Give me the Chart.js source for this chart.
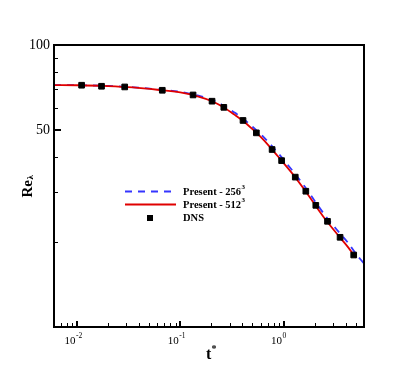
<!DOCTYPE html>
<html>
<head>
<meta charset="utf-8">
<script src="https://cdn.jsdelivr.net/npm/chart.js@4.4.0/dist/chart.umd.min.js"></script>
<style>
  html, body { margin: 0; padding: 0; background: #fff; }
</style>
</head>
<body>
<canvas id="js--chart" width="415" height="369"></canvas>
<script>
// Re_lambda decay, present runs vs DNS
const tPresent256 = [0.006, 0.01, 0.02, 0.035, 0.06, 0.1, 0.15, 0.2, 0.26, 0.33, 0.4, 0.5, 0.6, 0.75, 0.95, 1.2, 1.6, 2.0, 2.6, 3.5, 4.2, 5.0, 6.0];
const rePresent256 = [72.1, 72.0, 71.6, 70.8, 69.6, 68.2, 66.1, 64.0, 61.1, 57.8, 55.0, 51.3, 48.3, 44.3, 40.1, 36.1, 31.5, 28.0, 24.5, 21.5, 19.9, 18.2, 16.8];

const tPresent512 = [0.006, 0.01, 0.02, 0.035, 0.06, 0.1, 0.15, 0.2, 0.26, 0.33, 0.4, 0.5, 0.6, 0.75, 0.95, 1.2, 1.6, 2.0, 2.6, 3.5, 4.2, 5.0];
const rePresent512 = [72.1, 72.0, 71.5, 70.7, 69.4, 67.9, 65.6, 63.3, 60.3, 56.8, 54.0, 50.3, 47.2, 43.2, 39.0, 35.2, 30.6, 27.2, 23.8, 20.8, 19.2, 17.6];

const tDNS = [0.0111, 0.0173, 0.029, 0.067, 0.133, 0.203, 0.264, 0.405, 0.545, 0.774, 0.957, 1.297, 1.641, 2.05, 2.66, 3.52, 4.77];
const reDNS = [72.0, 71.4, 71.0, 69.1, 66.5, 63.2, 60.1, 54.0, 48.8, 42.6, 38.9, 34.0, 30.3, 27.0, 23.7, 20.8, 18.0];

const xTickValues = [0.006, 0.007, 0.008, 0.009, 0.01, 0.02, 0.03, 0.04, 0.05, 0.06, 0.07, 0.08, 0.09,
  0.1, 0.2, 0.3, 0.4, 0.5, 0.6, 0.7, 0.8, 0.9, 1, 2, 3, 4, 5, 6];
const xMajorTicks = [0.01, 0.1, 1];
const xMajorExponents = ["-2", "-1", "0"];
const yTickValues = [10, 20, 30, 40, 50, 60, 70, 80, 90, 100];
const yLabelled = [50, 100];

const legendLabels = ["Present - 256", "Present - 512", "DNS"];
const legendSups = ["3", "3", ""];

const SERIF = '"Liberation Serif", "Times New Roman", serif';

const toPoints = (xs, ys) => xs.map((v, i) => ({ x: v, y: ys[i] }));

const decorations = {
  id: 'decorations',
  afterDraw(chart) {
    const { ctx, chartArea: a, scales: { x, y } } = chart;
    ctx.save();

    // frame
    ctx.strokeStyle = '#000';
    ctx.lineWidth = 2;
    ctx.strokeRect(a.left, a.top, a.right - a.left, a.bottom - a.top);

    // inward ticks
    ctx.lineWidth = 1;
    ctx.beginPath();
    xTickValues.forEach(v => {
      const px = Math.round(x.getPixelForValue(v)) + 0.5;
      const len = xMajorTicks.includes(v) ? 6 : 4;
      ctx.moveTo(px, a.bottom);
      ctx.lineTo(px, a.bottom - len);
    });
    yTickValues.forEach(v => {
      const py = Math.round(y.getPixelForValue(v)) + 0.5;
      const len = yLabelled.includes(v) ? 7 : 4;
      ctx.moveTo(a.left, py);
      ctx.lineTo(a.left + len, py);
    });
    ctx.stroke();
    ctx.lineWidth = 2;
    ctx.beginPath();
    xMajorTicks.forEach(v => {
      const px = Math.round(x.getPixelForValue(v));
      ctx.moveTo(px, a.bottom);
      ctx.lineTo(px, a.bottom - 6);
    });
    ctx.moveTo(a.left, Math.round(y.getPixelForValue(50)));
    ctx.lineTo(a.left + 7, Math.round(y.getPixelForValue(50)));
    ctx.stroke();

    // x tick labels 10^n
    ctx.fillStyle = '#000';
    ctx.textBaseline = 'alphabetic';
    xMajorTicks.forEach((v, i) => {
      const px = x.getPixelForValue(v);
      ctx.font = '11px ' + SERIF;
      ctx.textAlign = 'right';
      ctx.fillText('10', px - 1.5, a.bottom + 17);
      ctx.font = '7.5px ' + SERIF;
      ctx.textAlign = 'left';
      ctx.fillText(xMajorExponents[i], px - 1, a.bottom + 11);
    });

    // axis titles
    ctx.textAlign = 'left';
    ctx.font = 'bold 16px ' + SERIF;
    ctx.fillText('t', 206, 359);
    ctx.font = 'bold 10px ' + SERIF;
    ctx.fillText('*', 211.5, 352);

    ctx.save();
    ctx.translate(32, 197.5);
    ctx.rotate(-Math.PI / 2);
    ctx.font = 'bold 15px ' + SERIF;
    ctx.fillText('Re', 0, 0);
    const w = ctx.measureText('Re').width;
    ctx.font = 'bold 9px ' + SERIF;
    ctx.fillText('λ', w + 0.5, 1);
    ctx.restore();

    // legend
    const rows = [191.5, 204.5, 218];
    ctx.lineWidth = 1.8;
    ctx.strokeStyle = '#3535ff';
    ctx.setLineDash([7, 6]);
    ctx.beginPath();
    ctx.moveTo(125, rows[0]);
    ctx.lineTo(176, rows[0]);
    ctx.stroke();
    ctx.setLineDash([]);
    ctx.strokeStyle = '#e00000';
    ctx.beginPath();
    ctx.moveTo(125, rows[1]);
    ctx.lineTo(176, rows[1]);
    ctx.stroke();
    ctx.fillStyle = '#000';
    ctx.fillRect(147, rows[2] - 3, 6, 6);

    ctx.textBaseline = 'middle';
    legendLabels.forEach((txt, i) => {
      ctx.font = 'bold 10.5px ' + SERIF;
      ctx.fillText(txt, 183, rows[i] + 0.5);
      if (legendSups[i]) {
        const tw = ctx.measureText(txt).width;
        ctx.font = 'bold 7px ' + SERIF;
        ctx.fillText(legendSups[i], 183 + tw + 0.5, rows[i] - 4);
      }
    });

    ctx.restore();
  }
};

const config = {
  type: 'scatter',
  data: {
    datasets: [
      {
        label: 'DNS',
        data: toPoints(tDNS, reDNS),
        pointStyle: 'rect',
        pointRadius: 4,
        backgroundColor: '#000',
        borderColor: '#000',
        borderWidth: 1,
        showLine: false,
        order: 0
      },
      {
        label: 'Present - 512³',
        data: toPoints(tPresent512, rePresent512),
        showLine: true,
        borderColor: '#e00000',
        borderWidth: 1.8,
        pointRadius: 0,
        cubicInterpolationMode: 'monotone',
        order: 1
      },
      {
        label: 'Present - 256³',
        data: toPoints(tPresent256, rePresent256),
        showLine: true,
        borderColor: '#3535ff',
        borderWidth: 1.8,
        borderDash: [7, 6],
        pointRadius: 0,
        cubicInterpolationMode: 'monotone',
        order: 2
      }
    ]
  },
  options: {
    responsive: false,
    animation: false,
    layout: { padding: { top: 45, right: 51, left: 0, bottom: 0 } },
    plugins: {
      legend: { display: false },
      tooltip: { enabled: false }
    },
    scales: {
      x: {
        type: 'logarithmic',
        min: 0.006,
        max: 6,
        grid: { display: false, drawTicks: false },
        border: { display: false },
        ticks: { display: false },
        afterFit: (scale) => { scale.height = 42; }
      },
      y: {
        type: 'logarithmic',
        min: 10,
        max: 100,
        grid: { display: false, drawTicks: false },
        border: { display: false },
        afterBuildTicks: (scale) => {
          scale.ticks = yTickValues.map(v => ({ value: v }));
        },
        ticks: {
          autoSkip: false,
          padding: 4,
          color: '#000',
          font: { family: SERIF, size: 14 },
          callback: (value) => yLabelled.includes(value) ? String(value) : ''
        },
        afterFit: (scale) => { scale.width = 54; }
      }
    }
  },
  plugins: [decorations]
};

const reChart = new Chart(document.getElementById("js--chart"), config);
</script>
</body>
</html>
